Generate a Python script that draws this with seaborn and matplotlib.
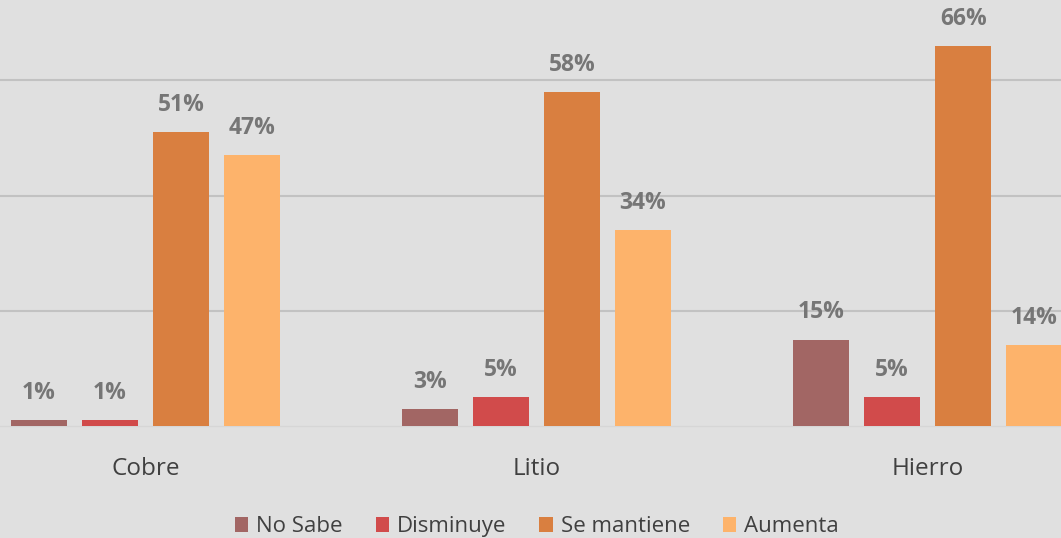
import pandas as pd
import matplotlib.pyplot as plt
import seaborn as sns

# chart data
minerals = ["Cobre", "Litio", "Hierro"]
answers = ["No Sabe", "Disminuye", "Se mantiene", "Aumenta"]
no_sabe = [1, 3, 15]
disminuye = [1, 5, 5]
se_mantiene = [51, 58, 66]
aumenta = [47, 34, 14]
colors = ["#a26664", "#d14b4b", "#d97f40", "#fdb36b"]

rows = []
for ans, vals in zip(answers, [no_sabe, disminuye, se_mantiene, aumenta]):
    for m, v in zip(minerals, vals):
        rows.append({"mineral": m, "respuesta": ans, "pct": v})
df = pd.DataFrame(rows)

sns.set_style("white")
plt.rcParams["font.family"] = ["Open Sans", "DejaVu Sans"]

bg = "#e0e0e0"
fig = plt.figure(figsize=(10.61, 5.38), dpi=100, facecolor=bg)
ax = fig.add_axes([0, 0.208, 1, 0.792], facecolor=bg)

sns.barplot(data=df, x="mineral", y="pct", hue="respuesta", order=minerals,
            hue_order=answers, palette=colors, width=0.726, gap=0.21,
            saturation=1, linewidth=0, ax=ax, legend=True, zorder=3)

for c in ax.containers:
    ax.bar_label(c, fmt="{:.0f}%", padding=11, fontsize=16.5, fontweight="bold",
                 color="#767676")

ax.set_xlim(-0.372, 2.341)
ax.set_ylim(0, 73.96)
ax.set_yticks([20, 40, 60])
ax.yaxis.grid(True, color="#c2c2c2", linewidth=1.5, zorder=0)
ax.set_axisbelow(True)
ax.tick_params(axis="y", left=False, labelleft=False)
ax.tick_params(axis="x", length=0, pad=22, labelsize=17.5, labelcolor="#404040")
ax.set_xlabel("")
ax.set_ylabel("")
for s in ["top", "right", "left"]:
    ax.spines[s].set_visible(False)
ax.spines["bottom"].set_color("#d6d6d6")
ax.spines["bottom"].set_linewidth(1)

handles, labels = ax.get_legend_handles_labels()
ax.get_legend().remove()
leg = fig.legend(handles, labels, loc="lower center", bbox_to_anchor=(0.506, -0.036),
                 ncol=4, frameon=False, fontsize=16, handlelength=0.6,
                 handleheight=0.6, handletextpad=0.35, columnspacing=1.5,
                 labelcolor="#404040")

fig.savefig("out.png", dpi=100, facecolor=bg)
